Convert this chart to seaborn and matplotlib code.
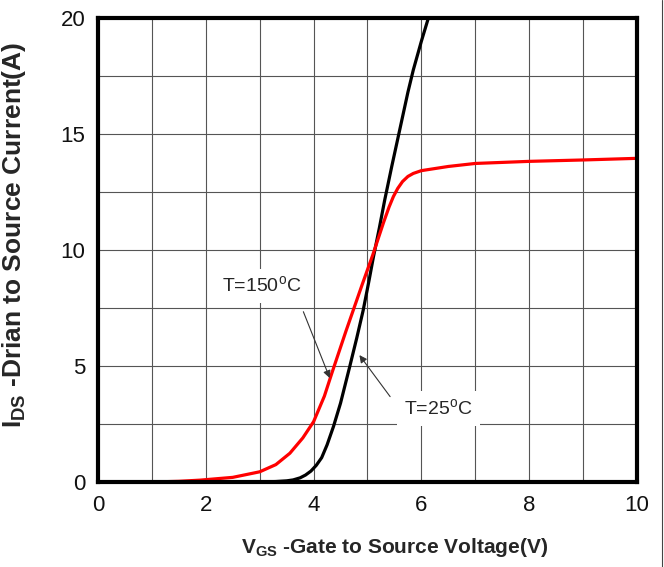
import numpy as np
import pandas as pd
import seaborn as sns
import matplotlib.pyplot as plt
from matplotlib.lines import Line2D

# transfer characteristic
vgs_25 = [3.0, 3.3, 3.5, 3.62, 3.75, 3.85, 3.95, 4.05, 4.15, 4.25, 4.37, 4.5, 4.67, 4.8,
          4.92, 5.03, 5.11, 5.22, 5.32, 5.45, 5.6, 5.75, 5.85, 6.0, 6.13]
ids_25 = [0.0, 0.02, 0.05, 0.09, 0.18, 0.3, 0.47, 0.72, 1.05, 1.6, 2.4, 3.4, 4.97, 6.2,
          7.4, 8.7, 9.7, 10.95, 12.16, 13.6, 15.2, 16.8, 17.76, 19.0, 20.0]

vgs_150 = [1.0, 1.5, 1.89, 2.5, 3.0, 3.3, 3.56, 3.8, 4.0, 4.2, 4.34, 4.6, 4.9, 5.1,
           5.3, 5.4, 5.48, 5.56, 5.65, 5.75, 5.85, 6.0, 6.5, 7.0, 8.0, 9.0, 10.0]
ids_150 = [0.0, 0.03, 0.08, 0.2, 0.44, 0.75, 1.24, 1.9, 2.6, 3.7, 4.7, 6.5, 8.5, 9.8,
           11.2, 11.85, 12.3, 12.65, 12.95, 13.17, 13.3, 13.42, 13.6, 13.73, 13.82, 13.88, 13.95]

x_ticks = [0, 2, 4, 6, 8, 10]
y_ticks = [0, 5, 10, 15, 20]

df = pd.concat([
    pd.DataFrame({'vgs': vgs_25, 'ids': ids_25, 'T': '25'}),
    pd.DataFrame({'vgs': vgs_150, 'ids': ids_150, 'T': '150'}),
])

sns.set_theme(style='white')
plt.rcParams['font.family'] = ['Liberation Sans', 'DejaVu Sans']
plt.rcParams['mathtext.fontset'] = 'custom'
plt.rcParams['mathtext.rm'] = 'Liberation Sans'
plt.rcParams['mathtext.bf'] = 'Liberation Sans:bold'
plt.rcParams['mathtext.sf'] = 'Liberation Sans:bold'

fig = plt.figure(figsize=(6.64, 5.67), dpi=100)
ax = fig.add_axes([0.1476, 0.1499, 0.8117, 0.8184])

sns.lineplot(data=df, x='vgs', y='ids', hue='T', palette={'25': 'black', '150': '#ff0000'},
             sort=False, estimator=None, linewidth=2.3, legend=False, ax=ax)

ax.set_xlim(0, 10)
ax.set_ylim(0, 20)
ax.set_xticks(x_ticks)
ax.set_yticks(y_ticks)
ax.set_xticks(np.arange(0, 11, 1), minor=True)
ax.set_yticks(np.arange(0, 20.1, 2.5), minor=True)
ax.grid(which='both', color='#555555', linewidth=0.8)
ax.set_axisbelow(True)
ax.tick_params(which='both', length=0, labelsize=16, colors='#111111')
ax.tick_params(axis='x', pad=9)
ax.tick_params(axis='y', pad=9)
for s in ax.spines.values():
    s.set_color('black')
    s.set_linewidth(3)

ax.set_xlabel(r'$\mathbf{V_{GS}}$ -Gate to Source Voltage(V)', fontsize=15, fontweight='bold')
ax.set_ylabel(r'$\mathsf{I_{DS}}$ -Drian to Source Current(A)', fontsize=19, fontweight='bold')
ax.xaxis.set_label_coords(0.551, -0.116)
ax.yaxis.set_label_coords(-0.13, 0.533)

box = dict(facecolor='white', edgecolor='none', pad=5)
arrow = dict(arrowstyle='-|>', color='#333333', lw=0.8, mutation_scale=11, shrinkA=0, shrinkB=0)
ax.text(3.04, 8.45, r'T=150$^\mathregular{o}$C', fontsize=14, ha='center', va='center', bbox=box)
ax.annotate('', xy=(4.3, 4.48), xytext=(3.81, 7.34), arrowprops=arrow)
ax.text(6.32, 3.16, r'T=25$^\mathregular{o}$C', fontsize=14, ha='center', va='center', bbox=box)
ax.annotate('', xy=(4.85, 5.47), xytext=(5.42, 3.68), arrowprops=arrow)

fig.add_artist(Line2D([662 / 664, 662 / 664], [0, 1], color='#444444', linewidth=0.8))

fig.savefig('out.png', dpi=100)
